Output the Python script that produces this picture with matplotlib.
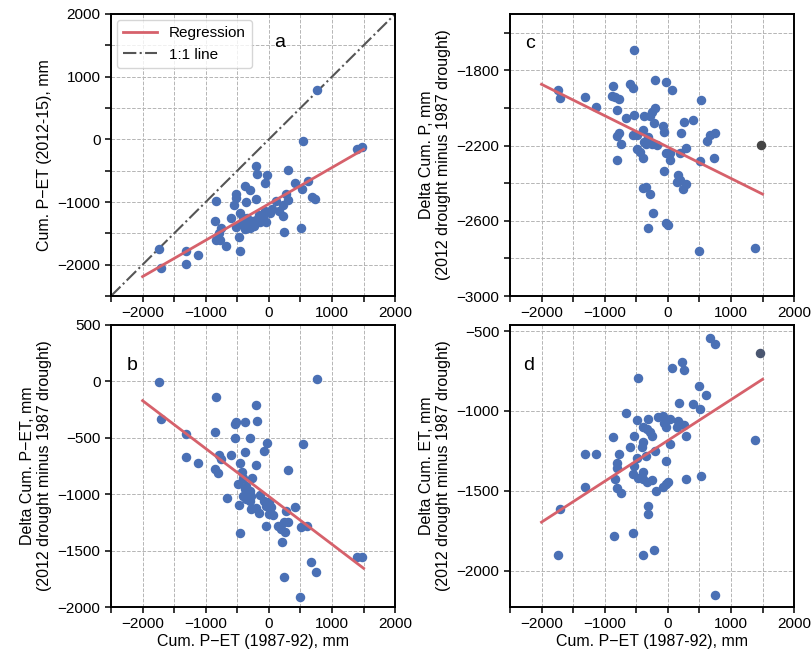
import matplotlib
matplotlib.use("Agg")
import matplotlib.pyplot as plt
from matplotlib.ticker import MultipleLocator, FixedLocator

plt.rcParams["font.family"] = ["Liberation Sans", "DejaVu Sans"]
plt.rcParams["font.size"] = 11

# ── Panel a: Cum. P-ET 1987-92 vs 2012-15 ────────────────────────────────────
a_x = [-1738, -1707, -1319, -1314, -1121, -858, -842, -842, -790, -779, -753, -674,
       -605, -553, -526, -526, -516, -474, -463, -463, -411, -385, -385, -369, -358,
       -332, -305, -295, -263, -200, -200, -200, -184, -148, -69, -58, -42, -27, 20,
       52, 115, 168, 231, 231, 247, 273, 299, 310, 420, 510, 526, 536, 620, 684, 736,
       767, 1395, 1474, -300, -250, -350, -100, -150, -420, -230]
a_y = [-1745, -2048, -1782, -1995, -1841, -1305, -989, -1605, -1500, -1605, -1410, -1700,
       -1263, -1042, -879, -932, -1405, -1563, -1789, -1173, -1263, -752, -1436, -1000, -1368,
       -1305, -1421, -805, -1305, -421, -947, -1289, -553, -1315, -1147, -695, -1315, -568, -1173,
       -1105, -989, -1147, -1052, -1226, -1484, -879, -963, -489, -700, -1410, -789, -27, -668, -921, -947,
       792, -160, -123, -1340, -1350, -1250, -1250, -1200, -1330, -1380]
a_fit = [-2190, -160]          # regression value at x = -2000 and x = 1500

# ── Panel b: delta cum. P-ET ─────────────────────────────────────────────────
b_x = [-1738, -1707, -1319, -1314, -1125, -845, -858, -858, -805, -790, -753, -664,
       -606, -543, -528, -543, -490, -475, -465, -464, -422, -412, -412, -386, -386,
       -383, -359, -359, -359, -307, -307, -297, -281, -281, -265, -203, -203, -203,
       -187, -150, -140, -72, -72, -46, -30, -4, 7, 33, 59, 138, 190, 206, 232, 243,
       253, 270, 295, 305, 406, 494, 505, 541, 610, 662, 740, 767, 1395, 1474, -46]
b_y = [-3, -334, -467, -673, -723, -140, -452, -777, -812, -650, -688, -1037,
       -650, -378, -357, -502, -910, -1096, -1344, -723, -806, -860, -1013, -363, -954,
       -623, -924, -998, -1042, -969, -1057, -505, -1013, -1131, -860, -207, -741, -1125,
       -354, -1166, -1007, -614, -1057, -1101, -549, -1072, -1175, -1116, -1184, -1279, -1308, -1426, -1243, -1736,
       -1332, -1146, -1243, -783, -1110, -1914, -1293, -555, -1279, -1598, -1686, 21, -1559, -1559, -1279]
b_fit = [-171, -1657]

# ── Panel c: delta cum. P ────────────────────────────────────────────────────
c_x = [-533, -1738, -1707, -1319, -1130, -868, -884, -831, -779, -805, -669, -606,
       -554, -533, -203, -35, 70, 531, -203, -255, -281, -376, -218, -72, -62, 258,
       400, 206, -779, -805, -737, -805, -554, -491, -396, -307, -376, -344, -255,
       -176, -491, -438, -396, -35, 33, 33, 295, 190, 615, 662, 751, 730, 505,
       -62, 164, 190, 148, 295, 243, -386, -349, -281, -240, -318, -30, -4, 494, 1385]
c_y = [-1694, -1906, -1947, -1942, -1995, -1885, -1938, -1942, -1954, -2009, -2051, -1871,
       -1892, -2039, -1853, -1862, -1903, -1959, -1998, -2021, -2044, -2044, -2078, -2097, -2127, -2074,
       -2066, -2133, -2133, -2150, -2189, -2278, -2142, -2145, -2119, -2154, -2181, -2193, -2193,
       -2198, -2216, -2234, -2264, -2239, -2239, -2278, -2211, -2239, -2177, -2142, -2133, -2266, -2281,
       -2335, -2358, -2384, -2393, -2405, -2432, -2425, -2420, -2455, -2558, -2637, -2614, -2623, -2761, -2743]
c_odd = [1474, -2198]           # dark grey point
c_fit = [-1874, -2458]

# ── Panel d: delta cum. ET ───────────────────────────────────────────────────
d_x = [672, 740, 1385, 740, -1738, -1707, -1319, -1130, -1319, -847, -554, -396,
       -213, -307, -307, -465, 70, 232, 253, 494, 610, 180, 400, 505, -669, -491,
       -318, -150, -72, 33, -62, -35, 164, 190, 258, 138, 295, -396, -333, -281,
       -255, -533, -868, -386, -606, -412, 33, -203, -779, -491, -344, -35, -805,
       -805, -533, -554, -396, -465, -386, -333, -255, -842, -805, -737, -192, -72,
       -4, -30, 295, 531]
d_y = [-546, -581, -1185, -2150, -1900, -1614, -1271, -1271, -1473, -1785, -1764, -1904,
       -1869, -1592, -1646, -796, -733, -692, -744, -844, -900, -948, -956, -990, -1015, -1056,
       -1052, -1035, -1029, -1048, -1077, -1102, -1062, -1083, -1087, -1102, -1156, -1098, -1115, -1129,
       -1160, -1154, -1164, -1192, -1223, -1223, -1206, -1250, -1271, -1292, -1281, -1312, -1327,
       -1358, -1344, -1394, -1385, -1421, -1427, -1442, -1435, -1427, -1483, -1514, -1504, -1477,
       -1446, -1458, -1427, -1406]
d_odd = [1464, -635]
d_fit = [-1696, -802]

fit_x = [-2000, 1500]

DOT = "#4a70b5"
RED = "#d6616b"
XLAB = "Cum. P\u2212ET (1987-92), mm"
SUB = "(2012 drought minus 1987 drought)"
LBL = 11.5

fig = plt.figure(figsize=(8.12, 6.59), dpi=100)
L1, L2, W = 0.1367, 0.628, 0.350
B_top, B_bot, H = 0.5508, 0.0789, 0.428
ax_a = fig.add_axes([L1, B_top, W, H])
ax_b = fig.add_axes([L1, B_bot, W, H])
ax_c = fig.add_axes([L2, B_top, W, H])
ax_d = fig.add_axes([L2, B_bot, W, H])

def style(ax):
    ax.set_xlim(-2500, 2000)
    ax.xaxis.set_major_locator(MultipleLocator(1000))
    ax.xaxis.set_minor_locator(MultipleLocator(500))
    ax.grid(True, which="both", ls="--", lw=0.7, color="#b5b5b5")
    ax.set_axisbelow(True)
    ax.tick_params(which="both", direction="out", length=4, width=1.1, labelsize=11)
    for sp in ax.spines.values():
        sp.set_linewidth(1.4)

# a
ax_a.scatter(a_x, a_y, s=34, color=DOT, zorder=3)
ax_a.plot(fit_x, a_fit, color=RED, lw=2, label="Regression", zorder=4)
ax_a.plot([-2500, 2000], [-2500, 2000], color="#555555", lw=1.5, ls="-.", label="1:1 line", zorder=2)
style(ax_a)
ax_a.set_ylim(-2500, 2000)
ax_a.yaxis.set_major_locator(MultipleLocator(1000))
ax_a.yaxis.set_minor_locator(MultipleLocator(500))
ax_a.set_ylabel("Cum. P\u2212ET (2012-15), mm", fontsize=LBL)
ax_a.legend(loc="upper left", fontsize=11, handlelength=2.2, borderaxespad=0.4)
ax_a.text(0.595, 0.90, "a", transform=ax_a.transAxes, fontsize=14, ha="center", va="center")

# b
ax_b.scatter(b_x, b_y, s=34, color=DOT, zorder=3)
ax_b.plot(fit_x, b_fit, color=RED, lw=2, zorder=4)
style(ax_b)
ax_b.set_ylim(-2000, 500)
ax_b.yaxis.set_major_locator(MultipleLocator(500))
ax_b.set_ylabel("Delta Cum. P\u2212ET, mm\n" + SUB, fontsize=LBL)
ax_b.set_xlabel(XLAB, fontsize=LBL, labelpad=2)
ax_b.text(0.074, 0.858, "b", transform=ax_b.transAxes, fontsize=14, ha="center", va="center")

# c
ax_c.scatter(c_x, c_y, s=34, color=DOT, zorder=3)
ax_c.scatter([c_odd[0]], [c_odd[1]], s=34, color="#444444", zorder=3)
ax_c.plot(fit_x, c_fit, color=RED, lw=2, zorder=4)
style(ax_c)
ax_c.set_ylim(-3000, -1500)
ax_c.yaxis.set_major_locator(FixedLocator([-3000, -2600, -2200, -1800]))
ax_c.yaxis.set_minor_locator(FixedLocator([-2800, -2400, -2000, -1600]))
ax_c.set_ylabel("Delta Cum. P, mm\n" + SUB, fontsize=LBL)
ax_c.text(0.07, 0.897, "c", transform=ax_c.transAxes, fontsize=14, ha="center", va="center")

# d
ax_d.scatter(d_x, d_y, s=34, color=DOT, zorder=3)
ax_d.scatter([d_odd[0]], [d_odd[1]], s=34, color="#4a5670", zorder=3)
ax_d.plot(fit_x, d_fit, color=RED, lw=2, zorder=4)
style(ax_d)
ax_d.set_ylim(-2227, -462)
ax_d.yaxis.set_major_locator(MultipleLocator(500))
ax_d.set_ylabel("Delta Cum. ET, mm\n" + SUB, fontsize=LBL)
ax_d.set_xlabel(XLAB, fontsize=LBL, labelpad=2)
ax_d.text(0.067, 0.858, "d", transform=ax_d.transAxes, fontsize=14, ha="center", va="center")

fig.savefig("out.png", dpi=100)
